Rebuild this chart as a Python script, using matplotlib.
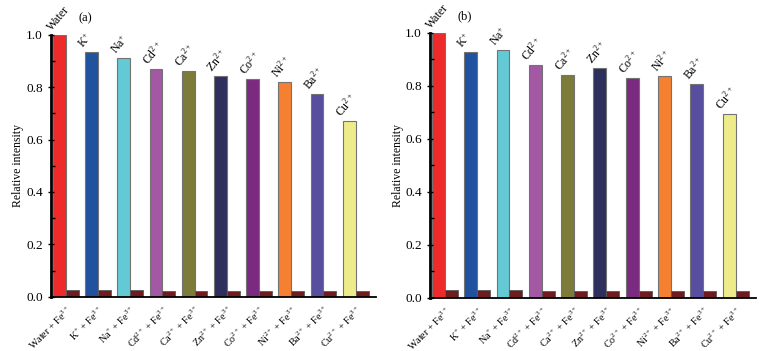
import numpy as np
import matplotlib
matplotlib.use("Agg")
import matplotlib.pyplot as plt
from matplotlib.ticker import MultipleLocator

plt.rcParams['font.family'] = ['Liberation Serif', 'DejaVu Serif']
plt.rcParams['mathtext.fontset'] = 'custom'
plt.rcParams['mathtext.rm'] = 'Liberation Serif'
plt.rcParams['mathtext.it'] = 'Liberation Serif:italic'
plt.rcParams['mathtext.bf'] = 'Liberation Serif:bold'
plt.rcParams['mathtext.default'] = 'rm'

# ion names shown above the bars
ions = ["Water", "K$^{+}$", "Na$^{+}$", "Cd$^{2+}$", "Ca$^{2+}$",
        "Zn$^{2+}$", "Co$^{2+}$", "Ni$^{2+}$", "Ba$^{2+}$", "Cu$^{2+}$"]
# tick labels under the groups
tick_labels = ["Water + Fe$^{3+}$", "K$^{+}$ + Fe$^{3+}$", "Na$^{+}$ + Fe$^{3+}$",
               "Cd$^{2+}$ + Fe$^{3+}$", "Ca$^{2+}$ + Fe$^{3+}$", "Zn$^{2+}$ + Fe$^{3+}$",
               "Co$^{2+}$ + Fe$^{3+}$", "Ni$^{2+}$ + Fe$^{3+}$", "Ba$^{2+}$ + Fe$^{3+}$",
               "Cu$^{2+}$ + Fe$^{3+}$"]

# panel (a)
ion_a = [1.0, 0.935, 0.912, 0.871, 0.861, 0.841, 0.831, 0.818, 0.774, 0.670]
fe_a = [0.025, 0.024, 0.024, 0.023, 0.023, 0.020, 0.023, 0.023, 0.023, 0.023]
# panel (b)
ion_b = [1.0, 0.926, 0.935, 0.878, 0.840, 0.866, 0.828, 0.835, 0.805, 0.692]
fe_b = [0.030, 0.028, 0.028, 0.027, 0.027, 0.027, 0.026, 0.026, 0.026, 0.026]

colors = ["#EE2A2A", "#2152A0", "#62C9D5", "#A258A3", "#7C7B3A",
          "#2F2F5E", "#7A2A7F", "#F58032", "#584E9F", "#EEEC8A"]
fe_color = "#6E1C20"

fig = plt.figure(figsize=(7.71, 3.51), dpi=100)


def panel(rect, ion_vals, fe_vals, tag):
    ax = fig.add_axes(rect)
    x = np.arange(len(ion_vals))
    w = 0.4
    ax.bar(x, ion_vals, width=w, align='edge', color=colors,
           edgecolor='0.45', linewidth=0.8)
    ax.bar(x + w, fe_vals, width=w, align='edge', color=fe_color,
           edgecolor='0.35', linewidth=0.6)
    for xi, v, name in zip(x, ion_vals, ions):
        ax.text(xi + 0.03, v + 0.006, name, rotation=50, fontsize=8.5,
                ha='left', va='bottom', rotation_mode='anchor')
    ax.set_xlim(-0.06, 10.03)
    ax.set_ylim(0, 1.0)
    ax.set_xticks(x + w)
    ax.set_xticklabels(tick_labels, rotation=45, ha='right',
                       rotation_mode='anchor', fontsize=7.3)
    ax.tick_params(axis='x', length=0, pad=5)
    ax.yaxis.set_major_locator(MultipleLocator(0.2))
    ax.yaxis.set_minor_locator(MultipleLocator(0.1))
    ax.yaxis.set_major_formatter(plt.FormatStrFormatter('%.1f'))
    ax.tick_params(axis='y', which='major', direction='inout', length=5,
                   width=1, labelsize=9.5)
    ax.tick_params(axis='y', which='minor', direction='in', length=3, width=1)
    for s in ['top', 'right']:
        ax.spines[s].set_visible(False)
    ax.spines['bottom'].set_linewidth(1.3)
    ax.spines['left'].set_linewidth(2.0)
    ax.set_ylabel("Relative intensity", fontsize=8.5, labelpad=1)
    ax.text(1.0, 1.04, tag, fontsize=9, ha='center', va='bottom')
    return ax


panel([0.0661, 0.1547, 0.4215, 0.7464], ion_a, fe_a, "(a)")
panel([0.5577, 0.1519, 0.4228, 0.7550], ion_b, fe_b, "(b)")

fig.savefig("out.png", dpi=100)
